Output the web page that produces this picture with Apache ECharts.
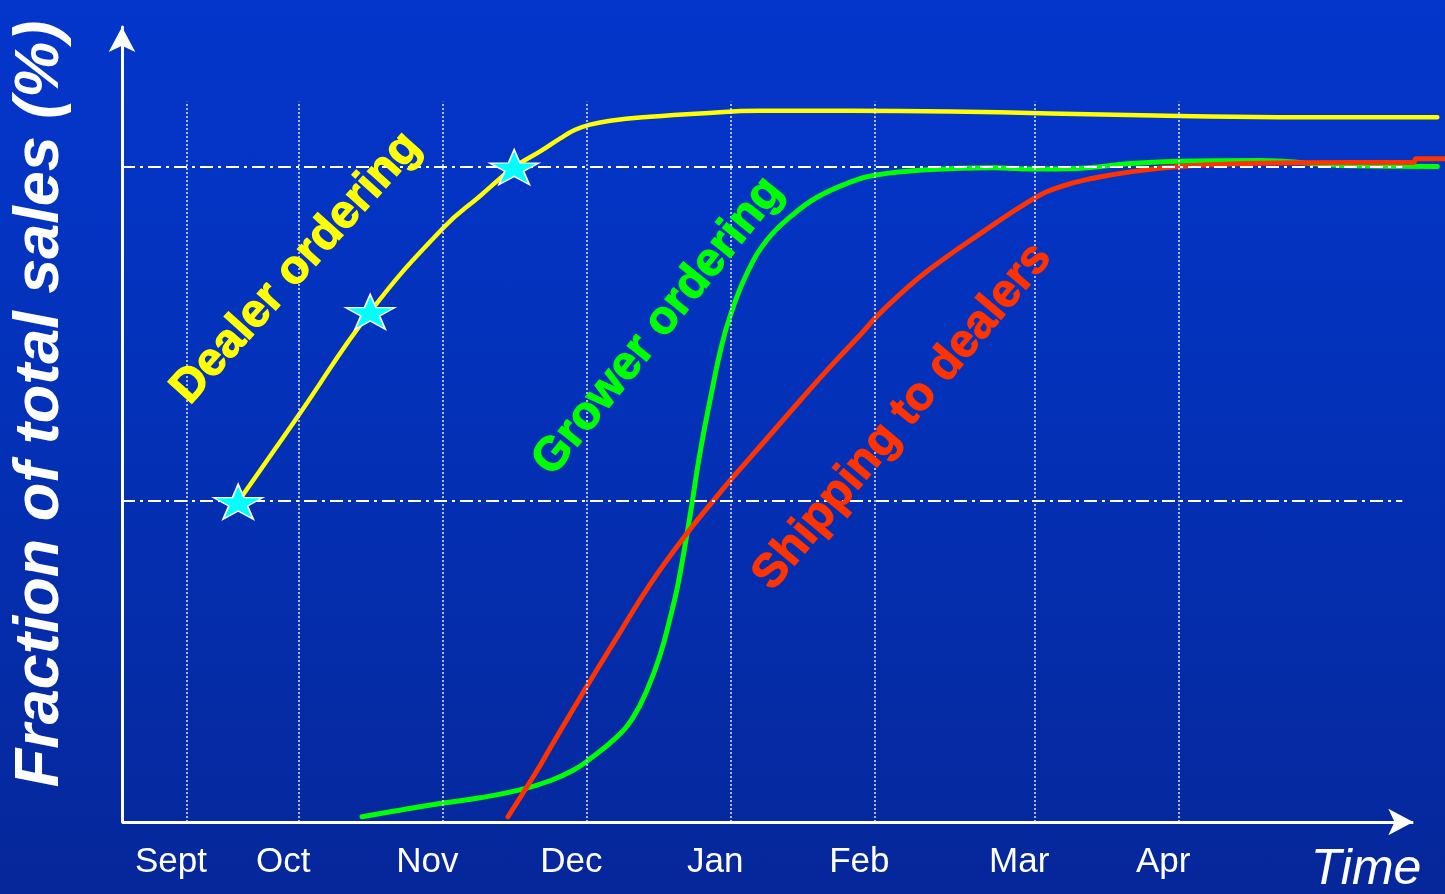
<!DOCTYPE html>
<html>
<head>
<meta charset="utf-8">
<title>Fraction of total sales over the season</title>
<script src="https://cdn.jsdelivr.net/npm/echarts@6/dist/echarts.min.js"></script>
<style>
  html, body { margin: 0; padding: 0; width: 1445px; height: 894px; overflow: hidden; }
  #chart {
    width: 1445px; height: 894px;
    background: linear-gradient(to bottom, #0436cc 0%, #0331b8 45%, #06279a 100%);
  }
</style>
</head>
<body>
<div id="chart"></div>
<script>
// Time axis: days counted from the origin of the chart. Sales axis: % of total.
const months = ['Sept', 'Oct', 'Nov', 'Dec', 'Jan', 'Feb', 'Mar', 'Apr'];
const monthLines = [13.5, 36.9, 66.9, 96.9, 126.9, 156.9, 190.2, 220.2];
const referenceLevels = [49, 100];

const dealerOrdering = [
  [24.2, 48.9], [36.5, 61.8], [51.7, 77.9], [66.9, 90.7], [74.6, 95.6],
  [81.7, 100], [87.1, 102.4], [91.3, 104.4], [94.4, 105.7], [97.5, 106.5],
  [101.7, 107.1], [110.0, 107.7], [120.4, 108.2], [132.9, 108.6], [151.7, 108.6],
  [172.5, 108.5], [193.3, 108.2], [220.4, 107.8], [245.4, 107.6], [274.0, 107.6]
];
const dealerMilestones = [[24.2, 48.9], [51.7, 77.9], [81.7, 100]];

const growerOrdering = [
  [50.0, 0.8], [57.9, 1.8], [66.9, 2.9], [74.6, 3.7], [82.9, 4.9],
  [89.2, 6.3], [94.0, 7.9], [96.9, 9.3], [103.1, 13.0], [106.5, 16.0],
  [109.4, 20.2], [112.1, 25.5], [114.2, 31.2], [115.8, 36.2], [117.3, 42.3],
  [118.8, 48.9], [119.8, 53.7], [121.0, 58.8], [122.5, 64.4], [124.6, 71.8],
  [126.7, 77.3], [130.2, 83.8], [134.4, 88.9], [139.2, 92.4], [144.8, 95.4],
  [151.7, 97.7], [157.1, 98.8], [167.7, 99.6], [181.5, 99.9], [190.2, 99.7],
  [199.0, 99.8], [209.4, 100.5], [220.2, 100.9], [237.1, 101.0], [255.8, 100.2],
  [274.0, 100.1]
];

const shippingToDealers = [
  [80.4, 0.8], [86.5, 7.9], [89.2, 11.3], [96.9, 20.8], [103.1, 28.2],
  [110.0, 36.3], [117.7, 44.1], [123.1, 49.0], [127.1, 52.5], [134.4, 58.6],
  [141.3, 64.4], [147.5, 69.5], [153.8, 74.4], [157.1, 77.1], [162.1, 80.6],
  [167.7, 84.1], [178.1, 89.5], [190.2, 95.3], [195.4, 97.0], [202.3, 98.3],
  [209.4, 99.2], [220.2, 100.1], [237.1, 100.6], [255.8, 100.7], [269.0, 100.7],
  [269.6, 101.3], [275.6, 101.3]
];

// Rotated curve captions, anchored in data space
const curveNotes = [
  { text: 'Dealer ordering', at: [36.3, 84.6], angle: 48, color: '#ffff00' },
  { text: 'Grower ordering', at: [111.7, 75.7], angle: 51, color: '#00ff00' },
  { text: 'Shipping to dealers', at: [162.6, 61.9], angle: 50, color: '#ff3300' }
];

const FONT = 'Arial, "Liberation Sans", Helvetica, sans-serif';
const X_MAX = 275.6;        // plot area runs to the right edge so curves can pass the arrow
const X_ARROW_END = 269.0;  // tip of the time-axis arrow
const REF_END = 266.7;      // right end of the reference levels
const Y_MAX = 121.4;
const GRID_TOP_Y = 110;
const LABEL_SHIFT = 3.3;

const STAR = 'path://M50,0 L61.2,34.5 L97.55,34.55 L68.2,55.9 L79.4,90.45 L50,69.1 L20.6,90.45 L31.8,55.9 L2.45,34.55 L38.8,34.5 Z';

const labelAt = monthLines.map(v => v - LABEL_SHIFT);

const chart = echarts.init(document.getElementById('chart'), null, { renderer: 'canvas' });

function curve(name, data, color, width, z) {
  return {
    name: name,
    type: 'line',
    data: data,
    smooth: 0.45,
    showSymbol: false,
    clip: false,
    z: z,
    lineStyle: { color: color, width: width, cap: 'round', join: 'round' }
  };
}

chart.setOption({
  animation: false,
  backgroundColor: 'transparent',
  grid: { left: 122, right: 0, top: 27, bottom: 72, containLabel: false },
  xAxis: {
    type: 'value',
    min: 0,
    max: X_MAX,
    axisLine: { show: false },
    axisTick: { show: false },
    splitLine: { show: false },
    axisLabel: {
      show: true,
      customValues: labelAt,
      formatter: function (value) {
        let best = 0, d = Infinity;
        labelAt.forEach((v, i) => { const dd = Math.abs(v - value); if (dd < d) { d = dd; best = i; } });
        return months[best];
      },
      color: '#ffffff',
      fontFamily: FONT,
      fontSize: 35,
      margin: 23
    }
  },
  yAxis: {
    type: 'value',
    min: 0,
    max: Y_MAX,
    axisLine: {
      show: true,
      lineStyle: { color: '#ffffff', width: 3 },
      symbol: ['none', 'arrow'],
      symbolSize: [20, 25]
    },
    axisTick: { show: false },
    axisLabel: { show: false },
    splitLine: { show: false }
  },
  graphic: [
    {
      type: 'text',
      x: 41, y: 404,
      rotation: Math.PI / 2,
      style: {
        text: 'Fraction of total sales (%)',
        font: 'italic bold 63px ' + FONT,
        fill: '#ffffff',
        align: 'center',
        verticalAlign: 'middle'
      }
    },
    {
      type: 'text',
      x: 1366, y: 870,
      style: {
        text: 'Time',
        font: 'italic 50px ' + FONT,
        fill: '#ffffff',
        align: 'center',
        verticalAlign: 'middle'
      }
    }
  ],
  series: [
    {
      // month gridlines and reference levels
      type: 'line',
      data: [],
      z: 1,
      silent: true,
      markLine: {
        silent: true,
        symbol: 'none',
        label: { show: false },
        animation: false,
        data: [
          ...monthLines.map(v => [
            { coord: [v, 0], lineStyle: { color: '#e6ecff', width: 1.5, type: [2, 2] } },
            { coord: [v, GRID_TOP_Y] }
          ]),
          ...referenceLevels.map(v => [
            { coord: [0, v], lineStyle: { color: '#ffffff', width: 1.8, type: [13, 5, 3, 5] } },
            { coord: [REF_END, v] }
          ])
        ]
      }
    },
    {
      // time axis with its arrow head
      type: 'line',
      data: [],
      z: 5,
      silent: true,
      markLine: {
        silent: true,
        symbol: ['none', 'arrow'],
        symbolSize: [20, 25],
        label: { show: false },
        animation: false,
        data: [[
          { coord: [0, 0], lineStyle: { color: '#ffffff', width: 3, type: 'solid' },
            itemStyle: { color: '#ffffff' } },
          { coord: [X_ARROW_END, 0] }
        ]]
      }
    },
    curve('Dealer ordering', dealerOrdering, '#ffff00', 4.5, 3),
    curve('Grower ordering', growerOrdering, '#00ff00', 5, 3),
    curve('Shipping to dealers', shippingToDealers, '#ff3300', 5, 4),
    {
      name: 'Dealer milestones',
      type: 'scatter',
      data: dealerMilestones,
      symbol: STAR,
      symbolSize: [49, 35],
      clip: false,
      z: 6,
      itemStyle: { color: '#00ffff', borderColor: '#ffffff', borderWidth: 1.5, opacity: 1 }
    },
    {
      name: 'Captions',
      type: 'scatter',
      silent: true,
      clip: false,
      z: 7,
      symbolSize: 1,
      itemStyle: { color: 'rgba(0,0,0,0)', opacity: 1 },
      data: curveNotes.map(n => ({
        value: n.at,
        label: {
          show: true,
          formatter: n.text,
          position: 'inside',
          rotate: n.angle,
          color: n.color,
          opacity: 1,
          textBorderColor: n.color,
          textBorderWidth: 1.2,
          fontFamily: FONT,
          fontWeight: 'bold',
          fontSize: 47
        }
      }))
    }
  ]
});
</script>
</body>
</html>
